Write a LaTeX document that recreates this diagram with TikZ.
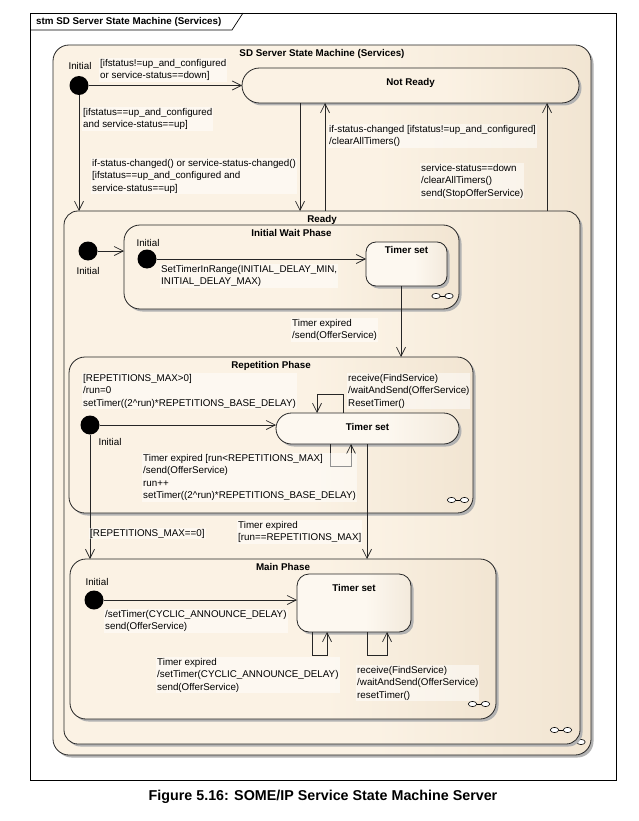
\documentclass[tikz,border=0pt]{standalone}
\usepackage{fontspec}
\setmainfont{Liberation Sans}
\usetikzlibrary{arrows.meta,shadows}
\definecolor{stL}{RGB}{251,242,228}
\definecolor{stR}{RGB}{230,213,188}
\definecolor{tsL}{RGB}{253,248,240}
\definecolor{tsR}{RGB}{230,215,194}
\pgfdeclarehorizontalshading{stshade}{100bp}{color(0bp)=(stL); color(55bp)=(stL); color(100bp)=(stR)}
\pgfdeclarehorizontalshading{tsshade}{100bp}{color(0bp)=(tsL); color(55bp)=(tsL); color(100bp)=(tsR)}
\newcommand\lblfont{\fontsize{9.8}{12.5}\selectfont}
\newcommand\ttlfont{\fontsize{9.8}{12}\selectfont\bfseries}
\newcommand\infsign[2]{%
  \draw[line width=0.6pt, fill=white] (#1-6.5,#2) ellipse (4.2 and 2.6) (#1+6.5,#2) ellipse (4.2 and 2.6);
  \draw[line width=0.6pt] (#1-2.3,#2) -- (#1+2.3,#2);}
\begin{document}
\begin{tikzpicture}[x=1pt,y=-1pt,
  state/.style={draw=black!85, line width=0.8pt, outer sep=0pt, inner sep=0pt,
    shade, shading=stshade,
    drop shadow={shadow xshift=2.5pt, shadow yshift=-2.5pt, fill=black!30, opacity=1}},
  tsstate/.style={state, shading=tsshade},
  ttl/.style={font=\ttlfont, anchor=north, inner sep=0pt, yshift=-4.5pt},
  ttlb/.style={ttl, yshift=-5.5pt},
  initst/.style={circle, fill=black, minimum size=19pt, inner sep=0pt, outer sep=0pt},
  tr/.style={draw=black!85, line width=0.75pt, -{Straight Barb[length=9pt,width=9pt]}},
  lbl/.style={font=\lblfont, align=left, anchor=north west, inner sep=1pt,
    fill=white, fill opacity=0.5, text opacity=1},
  inl/.style={font=\lblfont, inner sep=0pt}]
\useasboundingbox (0,0) rectangle (638,821);
\fill[white] (0,0) rectangle (638,821);
% frame
\draw[line width=0.7pt] (30,13) rectangle (616,780);
\draw[line width=0.7pt] (30,30) -- (232,30) -- (243,13);
\node[anchor=west, font=\ttlfont, inner sep=0pt] (ftitle) at (36,22) {stm SD Server State Machine (Services)};
% states
\node[state, rounded corners=16pt, minimum width=538pt, minimum height=710pt,
  label={[ttl]north:SD Server State Machine (Services)}] (sd) at (322,400) {};
\infsign{574.5}{742}
\node[state, rounded corners=17.5pt, minimum width=337pt, minimum height=35pt,
  label={[ttlb]north:Not Ready}] (notready) at (410.5,85.5) {};
\node[initst] (init0) at (79,85.5) {};
\node[state, rounded corners=14pt, minimum width=516pt, minimum height=533pt,
  label={[ttl]north:Ready}] (ready) at (322,477.5) {};
\infsign{561}{730}
\node[initst] (init1) at (88,251) {};
\node[state, rounded corners=16pt, minimum width=335pt, minimum height=84pt,
  label={[ttl]north:Initial Wait Phase}] (iwp) at (291.5,267) {};
\infsign{442.5}{296}
\node[initst] (init2) at (147,259) {};
\node[tsstate, rounded corners=10pt, minimum width=81pt, minimum height=44pt,
  label={[ttl]north:Timer set}] (ts1) at (406.5,264) {};
\node[state, rounded corners=16pt, minimum width=404pt, minimum height=156pt,
  label={[ttl]north:Repetition Phase}] (rp) at (271,435) {};
\infsign{458}{500}
\node[initst] (init3) at (90,425) {};
\node[tsstate, rounded corners=15.5pt, minimum width=183pt, minimum height=31pt,
  label={[ttlb]north:Timer set}] (ts2) at (367.5,428.5) {};
\node[state, rounded corners=16pt, minimum width=426pt, minimum height=160pt,
  label={[ttl]north:Main Phase}] (mp) at (283,639) {};
\infsign{479}{704}
\node[initst] (init4) at (94,600) {};
\node[tsstate, rounded corners=12pt, minimum width=114pt, minimum height=58pt,
  label={[ttlb]north:Timer set}] (ts3) at (354,603) {};
% helper x positions
\coordinate (x300) at (300,0);
\coordinate (x325) at (325,0);
\coordinate (x547) at (547,0);
\coordinate (x401) at (401,0);
\coordinate (x367) at (367,0);
% transitions
\draw[tr] (init0.east) -- (notready.west);
\draw[tr] (init0.south) -- (init0.south |- ready.north);
\draw[tr] (notready.south -| x300) -- (ready.north -| x300);
\draw[tr] (ready.north -| x325) -- (notready.south -| x325);
\draw[tr] (ready.north -| x547) -- (notready.south -| x547);
\draw[tr] (init1.east) -- (init1 -| iwp.west);
\draw[tr] (init2.east) -- (init2 -| ts1.west);
\draw[tr] (ts1.south -| x401) -- (rp.north -| x401);
\draw[tr] (init3.east) -- (init3 -| ts2.west);
\draw[tr] ([xshift=-24.5pt]ts2.north) -- ++(0,-19) -| ([xshift=-50.5pt]ts2.north);
\draw[tr] ([xshift=-37.5pt]ts2.south) -- ++(0,22) -| ([xshift=-16.5pt]ts2.south);
\draw[tr] (init3.south) -- (init3.south |- mp.north);
\draw[tr] (ts2.south -| x367) -- (mp.north -| x367);
\draw[tr] (init4.east) -- (init4 -| ts3.west);
\draw[tr] ([xshift=-42pt]ts3.south) -- ++(0,23) -| ([xshift=-27pt]ts3.south);
\draw[tr] ([xshift=13pt]ts3.south) -- ++(0,23) -| ([xshift=33pt]ts3.south);
% labels
\node[inl] (i0) at (80,66) {Initial};
\node[inl] (i1) at (88,271) {Initial};
\node[inl] (i2) at (148,243) {Initial};
\node[inl] (i3) at (110,442) {Initial};
\node[inl] (i4) at (97,582) {Initial};
\node[lbl] (l1) at (99,58) {[ifstatus!=up\_and\_configured\\or service-status==down]};
\node[lbl] (l2) at (82,107) {[ifstatus==up\_and\_configured\\and service-status==up]};
\node[lbl] (l3) at (91,158) {if-status-changed() or service-status-changed()\\{}[ifstatus==up\_and\_configured and\\service-status==up]};
\node[lbl] (l4) at (328,124) {if-status-changed [ifstatus!=up\_and\_configured]\\/clearAllTimers()};
\node[lbl] (l5) at (420,163) {service-status==down\\/clearAllTimers()\\send(StopOfferService)};
\node[lbl] (l6) at (160,264) {SetTimerInRange(INITIAL\_DELAY\_MIN,\\INITIAL\_DELAY\_MAX)};
\node[lbl] (l7) at (291,318) {Timer expired\\/send(OfferService)};
\node[lbl] (l8) at (82,373) {[REPETITIONS\_MAX>0]\\/run=0\\setTimer((2\textasciicircum run)*REPETITIONS\_BASE\_DELAY)};
\node[lbl] (l9) at (347,373) {receive(FindService)\\/waitAndSend(OfferService)\\ResetTimer()};
\node[lbl] (l10) at (142,453) {Timer expired [run<REPETITIONS\_MAX]\\/send(OfferService)\\run++\\setTimer((2\textasciicircum run)*REPETITIONS\_BASE\_DELAY)};
\node[lbl] (l11) at (89,528) {[REPETITIONS\_MAX==0]};
\node[lbl] (l12) at (237,520) {Timer expired\\{}[run==REPETITIONS\_MAX]};
\node[lbl] (l13) at (104,609) {/setTimer(CYCLIC\_ANNOUNCE\_DELAY)\\send(OfferService)};
\node[lbl] (l14) at (156,657) {Timer expired\\/setTimer(CYCLIC\_ANNOUNCE\_DELAY)\\send(OfferService)};
\node[lbl] (l15) at (356,665) {receive(FindService)\\/waitAndSend(OfferService)\\resetTimer()};
% caption
\node[font=\fontsize{14.3}{16}\selectfont\bfseries, inner sep=0pt] (cap) at (323,797) {Figure 5.16: SOME/IP Service State Machine Server};
\end{tikzpicture}
\end{document}
